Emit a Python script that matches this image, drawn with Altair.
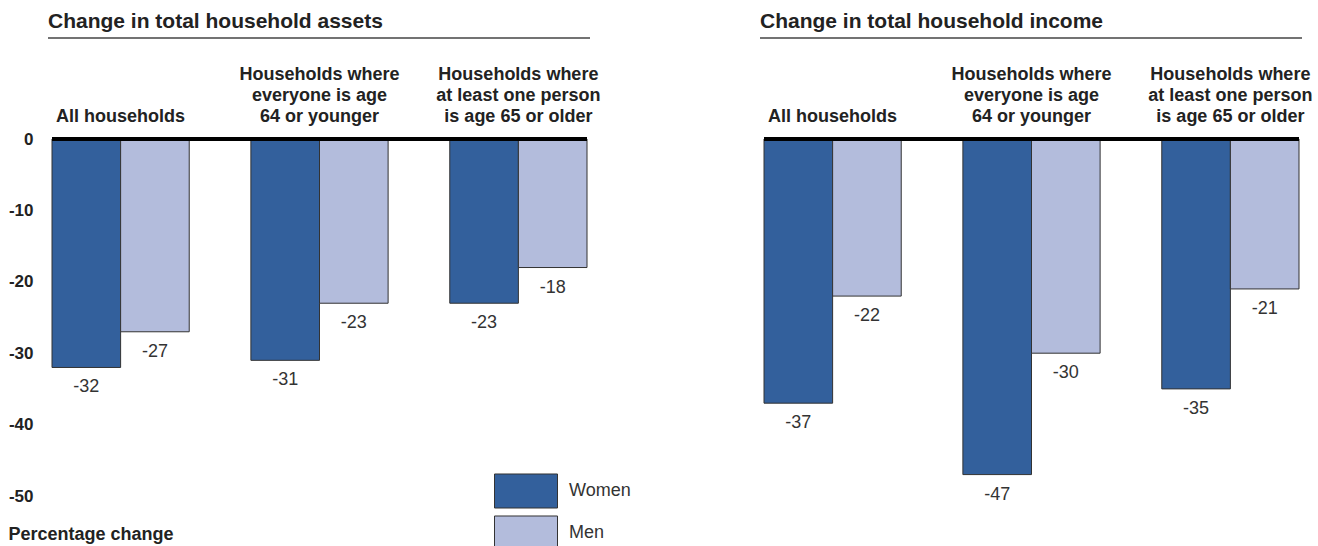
import altair as alt
import pandas as pd

groups = ["All", "Under65", "Over65"]
group_labels = [
    ["All households"],
    ["Households where", "everyone is age", "64 or younger"],
    ["Households where", "at least one person", "is age 65 or older"],
]
sexes = ["Women", "Men"]
assets_women = [-32, -31, -23]
assets_men = [-27, -23, -18]
income_women = [-37, -47, -35]
income_men = [-22, -30, -21]
y_ticks = [0, -10, -20, -30, -40, -50]
colors = ["#33609C", "#B3BCDC"]

FONT = "Liberation Sans"
W, H = 535, 357
LINE_H = 21

def make_df(women, men):
    rows = []
    for g, w, m in zip(groups, women, men):
        rows.append({"group": g, "sex": "Women", "value": w})
        rows.append({"group": g, "sex": "Men", "value": m})
    return pd.DataFrame(rows)


headers_df = pd.DataFrame({
    "group": groups,
    "label": ["\n".join(l) for l in group_labels],
    "n": [len(l) for l in group_labels],
})
line_counts = sorted(set(headers_df["n"]))
one_row = pd.DataFrame({"k": [0]})


def panel(df, title, left):
    xs = alt.Scale(domain=groups, paddingInner=0.31, paddingOuter=0)
    x = alt.X("group:N", sort=groups, scale=xs, axis=None)
    xo = alt.XOffset("sex:N", sort=sexes,
                     scale=alt.Scale(domain=sexes, paddingInner=0, paddingOuter=0))
    ys = alt.Scale(domain=[-50, 0], nice=False, zero=True)
    if left:
        yaxis = alt.Axis(values=y_ticks, domain=False, ticks=False, grid=False,
                         labelExpr="'' + datum.value",
                         labelFontSize=17, labelFontWeight="bold", labelColor="#222",
                         labelPadding=19, title="Percentage change", titleAngle=0,
                         titleAlign="left", titleBaseline="alphabetic", titleX=-44,
                         titleY=400, titleFontSize=18, titleFontWeight="bold",
                         titleColor="#222")
        legend = alt.Legend(orient="none", legendX=442, legendY=331, title=None,
                            symbolType="M-1,-0.54L1,-0.54L1,0.54L-1,0.54Z",
                            symbolSize=3969, symbolStrokeColor="#333",
                            symbolStrokeWidth=1, symbolOpacity=1,
                            labelFontSize=18, labelColor="#333", labelOffset=11,
                            labelFont=FONT, clipHeight=42, rowPadding=0, padding=0)
    else:
        yaxis = None
        legend = None
    y = alt.Y("value:Q", scale=ys, axis=yaxis)

    underline = alt.Chart(one_row).mark_rule(color="#444", strokeWidth=1.5).encode(
        x=alt.value(-4), x2=alt.value(W + 3), y=alt.value(-101))

    bars = alt.Chart(df).mark_bar(stroke="#333", strokeWidth=1).encode(
        x=x, xOffset=xo, y=y,
        color=alt.Color("sex:N", scale=alt.Scale(domain=sexes, range=colors),
                        legend=legend))

    zero = alt.Chart(one_row).mark_rule(color="black", strokeWidth=4).encode(
        y=alt.Y(datum=0, scale=ys, axis=yaxis))

    vals = alt.Chart(df).transform_calculate(
        txt="'' + datum.value"
    ).mark_text(baseline="top", dy=11, fontSize=18, color="#333", font=FONT).encode(
        x=x, xOffset=xo, y=y, text=alt.Text("txt:N"))

    heads = []
    for n in line_counts:
        heads.append(
            alt.Chart(headers_df).transform_filter(f"datum.n == {n}").mark_text(
                lineBreak="\n", baseline="alphabetic", fontSize=18, fontWeight="bold",
                color="#222", lineHeight=LINE_H, dy=-17 - LINE_H * (n - 1),
                font=FONT).encode(
                x=x, y=alt.Y(datum=0, scale=ys, axis=yaxis), text="label:N"))

    return alt.layer(underline, bars, zero, vals, *heads).properties(
        width=W, height=H,
        title=alt.TitleParams(text=title, anchor="start", frame="group", dx=-4,
                              offset=5, fontSize=21, fontWeight="bold",
                              color="#222", font=FONT))


left = panel(make_df(assets_women, assets_men), "Change in total household assets", True)
right = panel(make_df(income_women, income_men), "Change in total household income", False)

chart = alt.hconcat(left, right, spacing=177, bounds="flush").resolve_legend(
    color="independent").configure(
    font=FONT, padding={"left": 8, "top": 11, "right": 5, "bottom": 0}
).configure_view(stroke=None)

chart.save("out.html", embed_options={"renderer": "svg", "actions": False})
